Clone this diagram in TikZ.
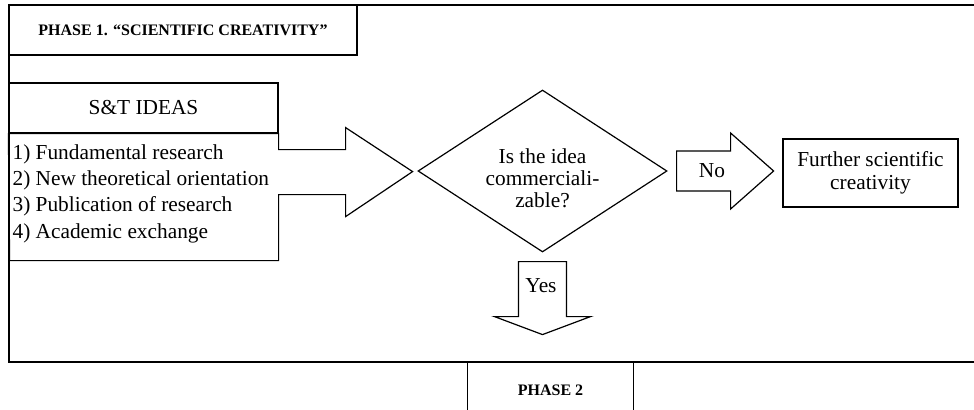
\documentclass[tikz,border=0pt]{standalone}
\usepackage{fontspec}
\setmainfont{Liberation Serif}
\usetikzlibrary{positioning,shapes.geometric,calc}

\begin{document}
\begin{tikzpicture}[x=0.75pt,y=-0.75pt,line width=0.9pt,font=\fontsize{16}{16.5}\selectfont]
\tikzset{
  BX/.style={draw,rectangle,align=center,inner sep=2pt},
  HD/.style={BX,font=\fontsize{12}{14}\selectfont\bfseries},
  DC/.style={draw,diamond,aspect=1.54,minimum width=186.75pt,minimum height=121.5pt,inner sep=1pt},
  BA/.style={draw,line join=miter},
  lb/.style={inner sep=0pt},
}
\useasboundingbox (0,0) rectangle (974,410);

% phase 1 frame, open to the right
\coordinate (ftr) at (974,5);
\coordinate (fbr) at (974,362);
\draw (ftr) -- (9,5) -- (9,362) -- (fbr);

\node[HD,minimum width=261pt,minimum height=37.5pt](ph1) at (183,30){PHASE 1. “SCIENTIFIC CREATIVITY”};
\node[BX,minimum width=201.75pt,minimum height=37.5pt](ideas) at (143.5,108){S\&T IDEAS};
\node[lb,anchor=west,align=left,font=\fontsize{16}{19.75}\selectfont](list) at (12,193.5){1) Fundamental research\\2) New theoretical orientation\\3) Publication of research\\4) Academic exchange};

\node[DC](dec) at (542.5,171){};
\node[lb,align=center](qtext) at (542.5,178){Is the idea\\commerciali-\\zable?};
\node[BX,minimum width=131.25pt,minimum height=51pt,font=\fontsize{16}{17.25}\selectfont](further) at (870.5,173){Further scientific\\creativity};

% list box and its block arrow into the decision
\draw[BA](ideas.south west)--(ideas.south east)--++(0,16)--++(67,0)--++(0,-22)--++(67,44)--++(-67,45)--++(0,-22)--++(-67,0)--++(0,66)--++(-269,0)--cycle;

% no
\draw[BA](dec.east)++(9,-20)--++(54,0)--++(0,-18)--++(43,38)--++(-43,38)--++(0,-18)--++(-54,0)--cycle;
\node[lb](no) at (712,171){No};

% yes
\draw[BA](dec.south)++(-24,9)--++(0,55)--++(-24,0)--++(48,18)--++(48,-18)--++(-24,0)--++(0,-55)--cycle;
\node[lb](yes) at (541,286){Yes};

\node[lb,minimum width=123.75pt,minimum height=42pt,font=\fontsize{12}{14}\selectfont\bfseries](ph2) at (550.5,390){PHASE 2};
\draw(ph2.south west)--(ph2.north west)--(ph2.north east)--(ph2.south east);

\end{tikzpicture}
\end{document}
